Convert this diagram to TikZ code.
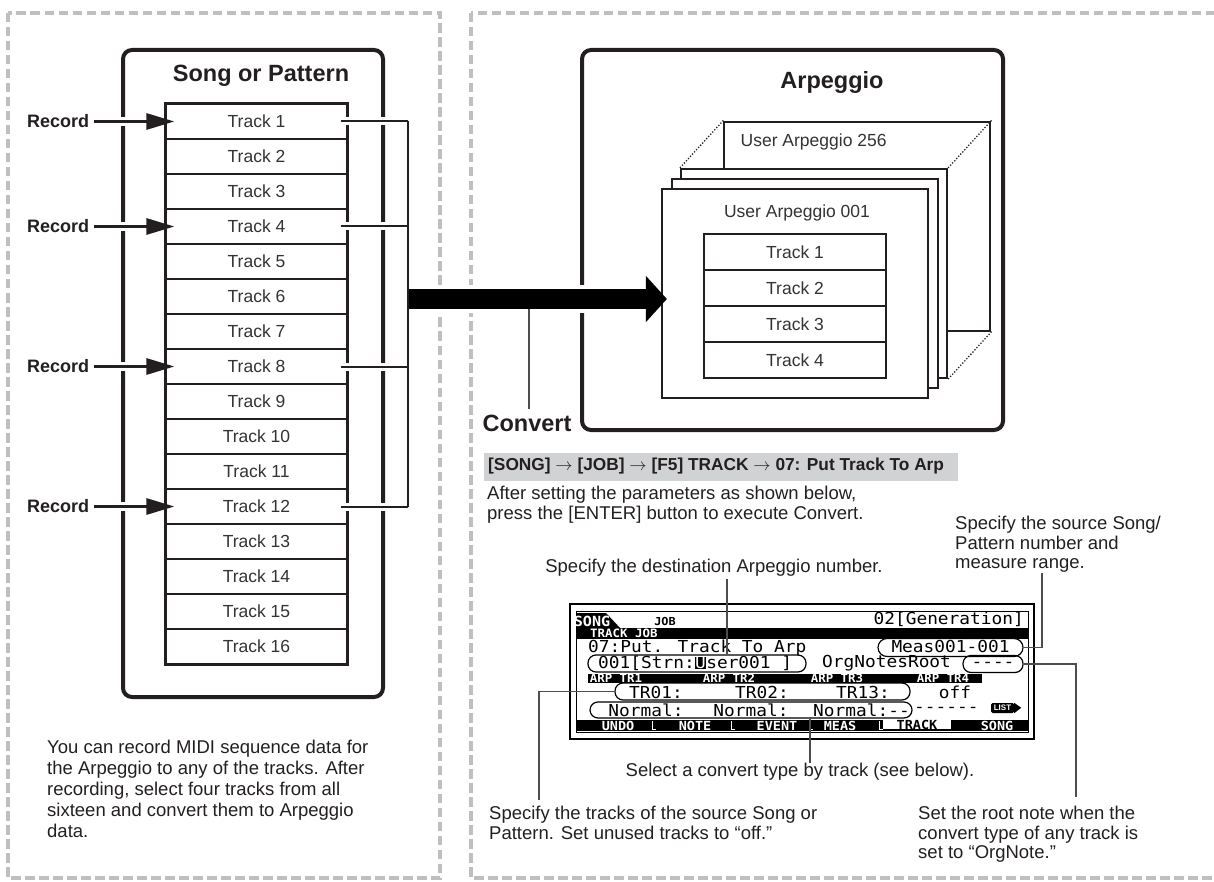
\documentclass[tikz,border=0pt]{standalone}
\usepackage{fontspec}
\setmainfont{Liberation Sans}
\newfontfamily\lcdfont[FakeStretch=1.08]{DejaVu Sans Mono}
\usetikzlibrary{arrows.meta, calc, positioning}
\definecolor{cInk}{HTML}{231F20}
\definecolor{cPanel}{HTML}{BEBFC1}
\definecolor{cBar}{HTML}{D1D2D4}
\definecolor{cLead}{HTML}{4D4D4F}
\tikzset{
    x=1pt, y=-1pt,
    panel/.style={draw=cPanel, line width=4pt, dash pattern=on 9.5pt off 4.5pt},
    frame/.style={draw=cInk, line width=4pt, rounded corners=9pt, inner sep=0pt},
    card/.style={draw=cInk, line width=2.2pt, fill=white, inner sep=0pt,
                 minimum width=266pt, minimum height=209pt},
    trk/.style={draw=cInk, line width=1.3pt, fill=white, inner sep=0pt,
                minimum width=181pt, minimum height=35pt, text=black!80,
                font=\fontsize{17.5}{20}\selectfont},
    ttl/.style={font=\bfseries\fontsize{23.5}{28}\selectfont, text=cInk, inner sep=0pt},
    rec/.style={font=\bfseries\fontsize{18}{21}\selectfont, text=cInk, inner sep=0pt},
    txt/.style={font=\fontsize{18.5}{19.5}\selectfont, text=cInk, inner sep=0pt, align=left},
    recarr/.style={-{Triangle[length=28pt, width=16pt]}, line width=3pt, draw=cInk,
                   preaction={draw=white, -, line width=9pt, shorten >=22pt}},
    link/.style={line width=2pt, draw=cInk, preaction={draw=white, line width=8pt}},
    conv/.style={-{Triangle[length=21pt, width=45pt]}, line width=19pt, draw=black,
                 preaction={draw=white, -, line width=27pt, shorten >=21pt}},
    lead/.style={line width=1.2pt, draw=cLead},
    dots/.style={draw=cInk, line width=1.8pt, line cap=round, dash pattern=on 0pt off 3pt},
    hbar/.style={fill=cBar, inner sep=0pt, minimum width=474pt, minimum height=28pt},
    htxt/.style={text=cInk, inner sep=0pt, font=\bfseries\fontsize{17.3}{20}\selectfont},
    lcd/.style={font=\lcdfont\fontsize{16.5}{17}\selectfont, inner sep=0pt, text=black},
    lcdsm/.style={font=\lcdfont\bfseries\fontsize{11.5}{12}\selectfont, inner sep=0pt, text=white},
    oval/.style={draw=black, line width=1.2pt, rounded corners=8pt, inner sep=0pt,
                 minimum height=17pt},
}

\begin{document}
\begin{tikzpicture}
    \useasboundingbox (0,0) rectangle (1214,882);
    \draw[panel] (8,13) rectangle (440,878);
    \draw[panel] (471,13) rectangle (1224,878);

    % song or pattern
    \node[frame, minimum width=260pt, minimum height=647pt] (song) at (253,373.5) {};
    \node[ttl] (songT) at (261,76) {Song or Pattern};
    \foreach \i in {1,...,16}
        \node[trk] (t\i) at (256.5,{86.5+35*\i}) {Track \i};
    \draw[cInk, line width=2.2pt] (t1.north west) rectangle (t16.south east);

    \foreach \i in {1,4,8,12} {
        \node[rec, anchor=east] (rec\i) at ($(t\i.west)+(-76,0)$) {Record};
        \draw[recarr] ([xshift=5pt]rec\i.east) -- ([xshift=9pt]t\i.west);
        \draw[link] ([xshift=-7pt]t\i.east) -- ++(67,0);
    }
    \coordinate (busTop) at ($(t1.east)+(60,0)$);
    \coordinate (busBot) at ($(t12.east)+(60,0)$);
    \coordinate (busMid) at (407,299);

    \node[txt, anchor=north west, font=\fontsize{18.5}{21}\selectfont] (info) at (47,739.5)
        {You can record MIDI sequence data for\\the Arpeggio to any of the tracks. After\\recording, select four tracks from all\\sixteen and convert them to Arpeggio\\data.};

    % arpeggio
    \node[frame, minimum width=421pt, minimum height=380pt] (arp) at (792.5,240) {};
    \node[ttl] (arpT) at (832,82) {Arpeggio};
    \node[card] (c256) at (857,226.5) {};
    \node[trk, draw=none, fill=none, anchor=west, minimum width=0pt] (c256T) at (740,142) {User Arpeggio 256};
    \draw[dots] (c256.north west) -- ++(-43,47);
    \draw[dots] (c256.north east) -- ++(-43,47);
    \draw[dots] (c256.south east) -- ++(-43,47);
    \node[card] (c3) at (814,273.5) {};
    \node[card] (c2) at (805,283.5) {};
    \node[card] (front) at (795,293.5) {};
    \node[trk, draw=none, fill=none, minimum width=0pt] (frontT) at (797,213) {User Arpeggio 001};
    \foreach \i in {1,...,4}
        \node[trk, minimum width=182pt, minimum height=36pt] (a\i) at (795,{216+36*\i}) {Track \i};
    \draw[cInk, line width=1.6pt] (a1.north west) rectangle (a4.south east);

    \draw[conv] (busMid) -- ($(busMid -| front.west)+(6,0)$);
    \draw[cInk, line width=2pt] (busTop) -- (busBot);
    \node[ttl] (cvt) at (527,423) {Convert};
    \coordinate (cvTop) at (529,309);
    \draw[lead] (cvTop) -- ($(cvTop |- cvt.north)+(0,-5)$);

    % put track to arp
    \node[hbar, anchor=west] (hdr) at (484,466.5) {};
    \node[htxt, anchor=west] (hdrT) at ($(hdr.west)+(4,0)$)
        {[SONG] \(\rightarrow\) [JOB] \(\rightarrow\) [F5] TRACK \(\rightarrow\) 07: Put Track To Arp};
    \node[txt, anchor=north west] (after) at (487,486)
        {After setting the parameters as shown below,\\press the [ENTER] button to execute Convert.};
    \node[txt, anchor=north west] (src) at (955,516)
        {Specify the source Song/\\Pattern number and\\measure range.};
    \node[txt] (dst) at (714,568) {Specify the destination Arpeggio number.};
    \node[txt] (sel) at (800,772) {Select a convert type by track (see below).};
    \node[txt, anchor=north west] (trkTxt) at (489,806)
        {Specify the tracks of the source Song or\\Pattern. Set unused tracks to “off.”};
    \node[txt, anchor=north west] (rootTxt) at (918,806)
        {Set the root note when the\\convert type of any track is\\set to “OrgNote.”};

    % lcd
    \draw[line width=1.4pt] (570,604) rectangle (1034,739);
    \draw[line width=0.8pt] (576,611) rectangle (1028,732);
    \fill (577,613) -- (606,613) -- (621,629) -- (577,629) -- cycle;
    \fill (577,628) rectangle (1028,639);
    \node[lcdsm, font=\lcdfont\bfseries\fontsize{14}{14}\selectfont] (tabSong) at (592,621) {SONG};
    \node[lcdsm, text=black, font=\lcdfont\bfseries\fontsize{11}{11}\selectfont] (tabJob) at (665,621.5) {JOB};
    \node[lcd, anchor=east] (genTxt) at (1024,619) {02[Generation]};
    \node[lcdsm, anchor=west] (trkJob) at (590,633.5) {TRACK JOB};

    \node[lcd, anchor=west] (putTxt) at (588,648) {07:Put. Track To Arp};
    \node[oval, minimum width=145pt, minimum height=18pt, rounded corners=9pt] (ovMeas) at (950.5,647.5) {};
    \node[lcd] (measTxt) at (950.5,646.5) {Meas001-001};

    \node[oval, minimum width=218pt] (ovStrn) at (697,663.5) {};
    \node[lcd, anchor=west] (strnA) at (598,663.5) {001[Strn:};
    \node[lcd, fill=black, text=white, base right=0pt of strnA] (cursor) {U};
    \node[lcd, base right=0pt of cursor] (strnB) {ser001 ]};
    \node[lcd, anchor=west] (orgNote) at (822,663.5) {OrgNotesRoot};
    \node[oval, minimum width=60pt] (ovRoot) at (993,664) {};
    \node[lcd] (rootDash) at (993,665) {----};

    \fill (588,674) rectangle (982,683);
    \foreach \x/\p in {616/1, 729/2, 837/3, 943/4}
        \node[lcdsm] (arp\p) at (\x,678.5) {ARP TR\p};

    \node[oval, minimum width=295pt] (ovTr) at (762.5,691.5) {};
    \foreach \x/\p in {656/01, 762/02, 863/13}
        \node[lcd] (tr\p) at (\x,692) {TR\p:};
    \node[lcd] (offTxt) at (955,692) {off};

    \node[oval, minimum width=322pt, minimum height=16pt] (ovType) at (751,710) {};
    \node[lcd] (typeA) at (646,710) {Normal:};
    \node[lcd] (typeB) at (751,710) {Normal:};
    \node[lcd, anchor=west] (typeC) at (813,710) {Normal:--};
    \node[lcd, anchor=west] (typeD) at (914,710) {------};
    \node[fill=black, text=white, font=\bfseries\fontsize{8}{8}\selectfont, inner sep=0pt,
          rounded corners=1.5pt, minimum width=23pt, minimum height=10pt] (lst) at (1002.5,708) {LIST};
    \fill (lst.north east) -- ++(7,5) -- (lst.south east) -- cycle;

    \fill (577,720) rectangle (1028,731);
    \fill[white] (883,720) rectangle (951,729);
    \foreach \x in {652,731,809,879}
        \draw[white, line width=1pt] (\x,721) -- (\x,729) -- ++(4,0);
    \foreach \x/\p in {618/UNDO, 695/NOTE, 777/EVENT, 840/MEAS, 997/SONG}
        \node[lcdsm, font=\lcdfont\bfseries\fontsize{12.5}{13}\selectfont] (tab\p) at (\x,725.5) {\p};
    \node[lcdsm, text=black, font=\lcdfont\bfseries\fontsize{12.5}{13}\selectfont] (tabTrack) at (917,724.5) {TRACK};

    % leaders
    \coordinate (dstFoot) at (727,579);
    \draw[lead] (dstFoot) -- (dstFoot |- ovStrn.north);
    \coordinate (srcFoot) at (1042,573);
    \draw[lead] (ovMeas.east) -| (srcFoot);
    \coordinate (rootFoot) at (1076,797);
    \draw[lead] (ovRoot.east) -| (rootFoot);
    \coordinate (trFoot) at (539,800);
    \draw[lead] (ovTr.west) -| (trFoot);
    \coordinate (typeFoot) at (810,763);
    \draw[lead] (typeFoot |- ovType.south) -- (typeFoot);
\end{tikzpicture}
\end{document}
